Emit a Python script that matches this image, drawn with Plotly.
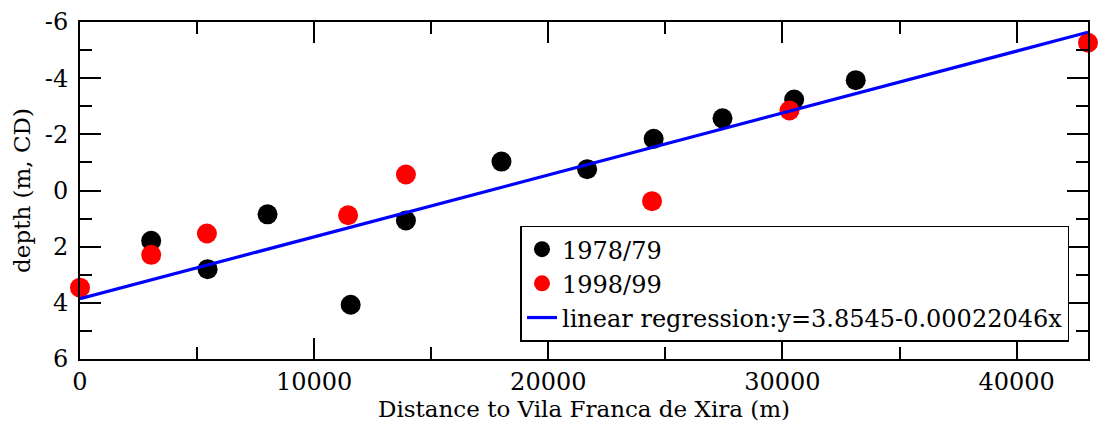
import plotly.graph_objects as go

# Data
x_1978 = [3040, 5450, 8010, 11560, 13920, 18000, 21660, 24500, 27440, 30500, 33130]
y_1978 = [1.79, 2.80, 0.85, 4.07, 1.07, -1.03, -0.76, -1.84, -2.57, -3.24, -3.93]

x_1998 = [0, 3040, 5420, 11450, 13920, 24430, 30300, 43050]
y_1998 = [3.46, 2.29, 1.53, 0.88, -0.57, 0.38, -2.85, -5.26]

reg_x = [0, 43050]
reg_y = [3.8545, -5.636]

names = ["1978/79", "1998/99", "linear regression:y=3.8545-0.00022046x"]
x_ticks = [0, 10000, 20000, 30000, 40000]
y_ticks = [-6, -4, -2, 0, 2, 4, 6]

FONT = "DejaVu Serif"

fig = go.Figure()
fig.add_trace(go.Scatter(x=x_1978, y=y_1978, mode="markers", name=names[0],
                         marker=dict(color="#000000", size=20), cliponaxis=False))
fig.add_trace(go.Scatter(x=x_1998, y=y_1998, mode="markers", name=names[1],
                         marker=dict(color="#ff0000", size=20), cliponaxis=False))
fig.add_trace(go.Scatter(x=reg_x, y=reg_y, mode="lines", name=names[2],
                         line=dict(color="#0000ff", width=3.2)))

axis_common = dict(
    showgrid=False, zeroline=False, showline=True, linecolor="black", linewidth=2,
    mirror="ticks", ticks="inside", ticklen=21, tickwidth=1.5, tickcolor="black",
    tickfont=dict(family=FONT, size=24, color="black"),
)

fig.update_xaxes(
    range=[0, 43050], tickvals=x_ticks, ticktext=[str(v) for v in x_ticks],
    minor=dict(ticks="inside", ticklen=12, tickwidth=1.5, tickcolor="black", dtick=5000, tick0=0),
    title=dict(text="Distance to Vila Franca de Xira (m)", font=dict(family=FONT, size=23, color="black"), standoff=6),
    **axis_common,
)
fig.update_yaxes(
    range=[6, -6], tickvals=y_ticks, ticktext=[str(v) for v in y_ticks],
    minor=dict(ticks="inside", ticklen=12, tickwidth=1.5, tickcolor="black", dtick=1, tick0=0),
    title=dict(text="depth (m, CD)", font=dict(family=FONT, size=23, color="black"), standoff=8),
    ticklabelstandoff=5,
    **axis_common,
)

fig.update_layout(
    width=1098, height=431,
    margin=dict(l=80, r=8, t=18, b=72),
    paper_bgcolor="white", plot_bgcolor="white",
    font=dict(family=FONT, color="black"),
    legend=dict(x=0.437, y=0.396, xanchor="left", yanchor="top",
                bordercolor="black", borderwidth=1.5, bgcolor="white",
                font=dict(family=FONT, size=24, color="black"),
                tracegroupgap=0, itemsizing="trace"),
    showlegend=True,
)

fig.write_html("out.html")
